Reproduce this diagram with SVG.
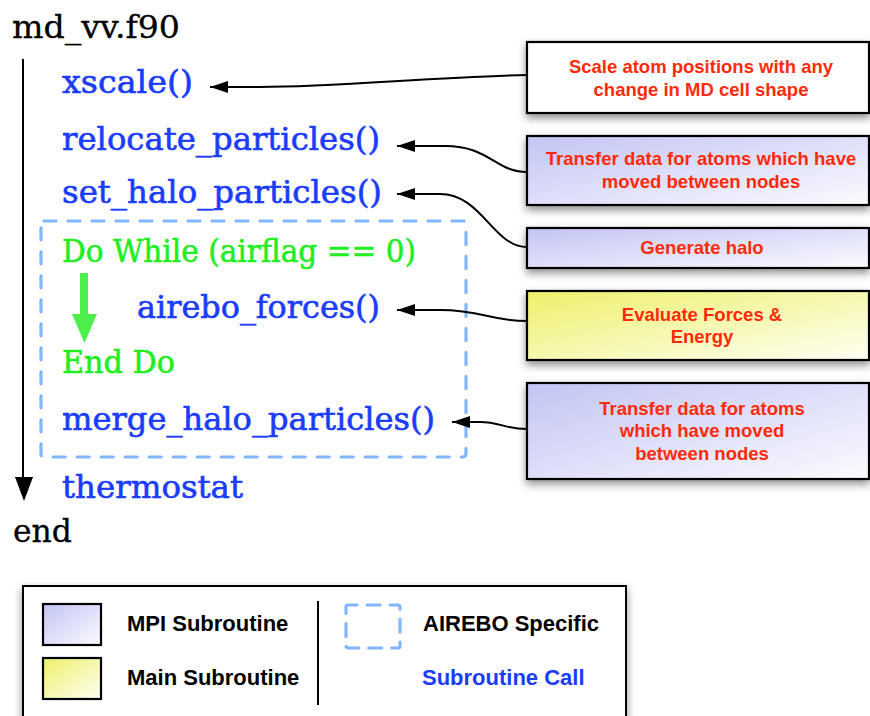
<svg xmlns="http://www.w3.org/2000/svg" width="870" height="716" viewBox="0 0 870 716">
<style>
.code{font-family:"DejaVu Serif","Liberation Serif",serif;font-size:31px;stroke-width:0.6}
.blue{fill:#1a3cff;stroke:#1a3cff}
.green{fill:#1fee1f;stroke:#1fee1f}
.black{fill:#000;stroke:#000;stroke-width:0.3}
.note{font-family:"Liberation Sans",Arial,sans-serif;font-weight:bold;font-size:18.5px;fill:#ff2a0a;text-anchor:middle}
.leg{font-family:"Liberation Sans",Arial,sans-serif;font-weight:bold;font-size:22px;fill:#000}
.box{stroke:#000;stroke-width:2.2}
.conn{fill:none;stroke:#000;stroke-width:2}
.dash{fill:none;stroke:#80b6ff;stroke-width:3.2;stroke-linecap:round}
</style>
<defs>
<linearGradient id="mpi" x1="0" y1="0" x2="1" y2="1">
<stop offset="0" stop-color="#c2c4f3"/>
<stop offset="1" stop-color="#fbfbff"/>
</linearGradient>
<linearGradient id="main" x1="0" y1="0" x2="1" y2="1">
<stop offset="0" stop-color="#eef06a"/>
<stop offset="1" stop-color="#fffff4"/>
</linearGradient>
<filter id="sh" x="-10%" y="-20%" width="130%" height="160%">
<feDropShadow dx="0" dy="4" stdDeviation="4" flood-color="#000" flood-opacity="0.45"/>
</filter>
<marker id="ah" markerUnits="userSpaceOnUse" markerWidth="20" markerHeight="14" refX="18" refY="6" orient="auto">
<path d="M0,0 L18,6 L0,12 Z" fill="#000"/>
</marker>
</defs>

<g id="code">
<text class="code black" x="12" y="38" textLength="168" lengthAdjust="spacingAndGlyphs">md_vv.f90</text>
<text class="code blue" x="62" y="93" textLength="131" lengthAdjust="spacingAndGlyphs">xscale()</text>
<text class="code blue" x="62" y="150" textLength="318" lengthAdjust="spacingAndGlyphs">relocate_particles()</text>
<text class="code blue" x="62" y="203" textLength="320" lengthAdjust="spacingAndGlyphs">set_halo_particles()</text>
<text class="code green" x="62" y="262" textLength="354" lengthAdjust="spacingAndGlyphs">Do While (airflag == 0)</text>
<text class="code blue" x="137" y="318" textLength="243" lengthAdjust="spacingAndGlyphs">airebo_forces()</text>
<text class="code green" x="62" y="373" textLength="113" lengthAdjust="spacingAndGlyphs">End Do</text>
<text class="code blue" x="62" y="430" textLength="373" lengthAdjust="spacingAndGlyphs">merge_halo_particles()</text>
<text class="code blue" x="62" y="498" textLength="181" lengthAdjust="spacingAndGlyphs">thermostat</text>
<text class="code black" x="13" y="542" textLength="59" lengthAdjust="spacingAndGlyphs">end</text>
</g>

<g id="flow">
<line x1="23" y1="59" x2="23" y2="480" stroke="#000" stroke-width="2"/>
<polygon points="15,477 33,477 24,501" fill="#000"/>
<rect x="80" y="273" width="8" height="43" fill="#4cee4c"/>
<polygon points="72,314 97,314 84.5,343" fill="#4cee4c"/>
</g>

<g id="airebo-box">
<rect class="dash" x="41" y="221" width="425" height="236" rx="3" stroke-dasharray="12 12"/>
</g>

<g id="connectors">
<path class="conn" d="M527,75 C430,77 340,87 260,87 L210,87" marker-end="url(#ah)"/>
<path class="conn" d="M527,172 C495,172 490,146 445,146 L397,146" marker-end="url(#ah)"/>
<path class="conn" d="M527,247 C493,247 482,194 440,194 L397,194" marker-end="url(#ah)"/>
<path class="conn" d="M527,321 C490,321 482,310 440,310 L397,310" marker-end="url(#ah)"/>
<path class="conn" d="M527,429 C505,429 500,422 480,422 L452,422" marker-end="url(#ah)"/>
</g>

<g id="note-xscale">
<rect class="box" x="527" y="42" width="342" height="71" fill="#fff" filter="url(#sh)"/>
<text class="note" x="701" y="73">Scale atom positions with any</text>
<text class="note" x="701" y="96">change in MD cell shape</text>
</g>
<g id="note-relocate">
<rect class="box" x="527" y="136" width="342" height="69" fill="url(#mpi)" filter="url(#sh)"/>
<text class="note" x="701" y="165">Transfer data for atoms which have</text>
<text class="note" x="701" y="188">moved between nodes</text>
</g>
<g id="note-halo">
<rect class="box" x="527" y="228" width="342" height="40" fill="url(#mpi)" filter="url(#sh)"/>
<text class="note" x="702" y="254">Generate halo</text>
</g>
<g id="note-forces">
<rect class="box" x="527" y="291" width="342" height="69" fill="url(#main)" filter="url(#sh)"/>
<text class="note" x="702" y="321">Evaluate Forces &amp;</text>
<text class="note" x="702" y="343">Energy</text>
</g>
<g id="note-merge">
<rect class="box" x="527" y="383" width="342" height="96" fill="url(#mpi)" filter="url(#sh)"/>
<text class="note" x="702" y="415">Transfer data for atoms</text>
<text class="note" x="702" y="437">which have moved</text>
<text class="note" x="702" y="460">between nodes</text>
</g>

<g id="legend">
<rect x="23" y="586" width="603" height="145" fill="#fff" stroke="#000" stroke-width="2" filter="url(#sh)"/>
<rect class="box" x="43" y="604" width="58" height="41" fill="url(#mpi)" stroke-width="2"/>
<rect class="box" x="43" y="658" width="58" height="41" fill="url(#main)" stroke-width="2"/>
<text class="leg" x="127" y="631">MPI Subroutine</text>
<text class="leg" x="127" y="685">Main Subroutine</text>
<line x1="318" y1="601" x2="318" y2="705" stroke="#000" stroke-width="2"/>
<rect class="dash" x="346" y="605" width="54" height="43" rx="2" stroke-dasharray="13 10" stroke-dashoffset="4"/>
<text class="leg" x="423" y="631">AIREBO Specific</text>
<text class="leg" x="422" y="685" style="fill:#1a3cff">Subroutine Call</text>
</g>
</svg>
